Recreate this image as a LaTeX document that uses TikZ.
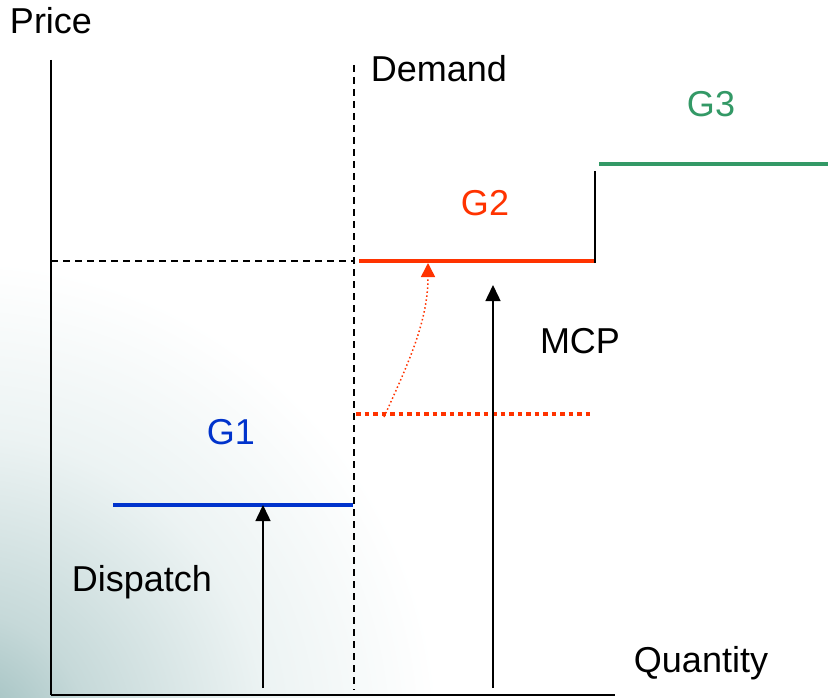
\documentclass[tikz,border=0pt]{standalone}
\usepackage{fontspec}
\setmainfont{Liberation Sans}
\usetikzlibrary{arrows.meta}
\definecolor{gblue}{RGB}{0,51,204}
\definecolor{gred}{RGB}{255,51,0}
\definecolor{ggreen}{RGB}{51,153,102}
\definecolor{bgteal}{RGB}{150,185,185}
\definecolor{bgmid}{RGB}{198,217,217}
\definecolor{bglight}{RGB}{236,243,243}
\pgfdeclareradialshading{cornerglow}{\pgfpoint{0bp}{0bp}}{color(0bp)=(bgteal); color(2.7bp)=(bgmid); color(6.4bp)=(bglight); color(10bp)=(white); color(50bp)=(white)}
\tikzset{
  lbl/.style={font=\fontsize{36}{42}\selectfont, inner sep=0pt},
  axisline/.style={line width=1.6pt, black},
  supplystep/.style={line width=4.5pt},
  dispatcharrow/.style={line width=1.5pt, -{Triangle[width=15pt,length=16pt]}},
  dashedguide/.style={line width=1.3pt, dash pattern=on 7pt off 5pt},
}
\begin{document}
\begin{tikzpicture}[x=1pt,y=-1pt]
\useasboundingbox (0,0) rectangle (828,698);
\begin{scope}
\clip (0,0) rectangle (828,698);
\fill[white] (0,0) rectangle (828,698);
\shade[shading=cornerglow] (-40,740) circle (1200);
\end{scope}

% coordinates
\coordinate (ytop) at (51,60);
\coordinate (origin) at (51,695);
\coordinate (xend) at (615,695);
\coordinate (dtop) at (354,65);
\coordinate (dbot) at (354,690);
\coordinate (pleft) at (51,261);
\coordinate (pright) at (354,261);
\coordinate (g1a) at (113,505);
\coordinate (g1b) at (353,505);
\coordinate (g2a) at (359,261);
\coordinate (g2b) at (595,261);
\coordinate (stepbot) at (595,263);
\coordinate (steptop) at (595,171);
\coordinate (g3a) at (599,164);
\coordinate (g3b) at (828,164);
\coordinate (oldA) at (356,414);
\coordinate (oldB) at (592,414);
\coordinate (curveS) at (384,417);
\coordinate (curveE) at (428,263);
\coordinate (a1s) at (263,688);
\coordinate (a1e) at (263,505);
\coordinate (a2s) at (493,688);
\coordinate (a2e) at (493,285);

% axes
\draw[axisline] (ytop) -- (origin);
\draw[axisline] (origin) -- (xend);

% guides
\draw[dashedguide] (dtop) -- (dbot);
\draw[dashedguide] (pleft) -- (pright);

% supply steps
\draw[supplystep, gblue] (g1a) -- (g1b);
\draw[supplystep, gred] (g2a) -- (g2b);
\draw[line width=2.5pt, black] (stepbot) -- (steptop);
\draw[supplystep, ggreen] (g3a) -- (g3b);

% old price level (dotted)
\draw[gred, line width=3.5pt, dash pattern=on 4.5pt off 4pt] (oldA) -- (oldB);
\draw[gred, line width=1.5pt, dash pattern=on 1.5pt off 2.5pt, -{Triangle[width=14pt,length=14pt]}]
  (curveS) .. controls (410,360) and (428,320) .. (curveE);

% arrows
\draw[dispatcharrow] (a1s) -- (a1e);
\draw[dispatcharrow] (a2s) -- (a2e);

% labels
\node[lbl] (price) at (51,21) {Price};
\node[lbl] (demand) at (439,69) {Demand};
\node[lbl, text=ggreen] (g3) at (711,104) {G3};
\node[lbl, text=gred] (g2) at (485,203) {G2};
\node[lbl] (mcp) at (580,341) {MCP};
\node[lbl, text=gblue] (g1) at (231,432) {G1};
\node[lbl] (dispatch) at (142,582) {Dispatch};
\node[lbl] (quantity) at (701,663) {Quantity};
\end{tikzpicture}
\end{document}
